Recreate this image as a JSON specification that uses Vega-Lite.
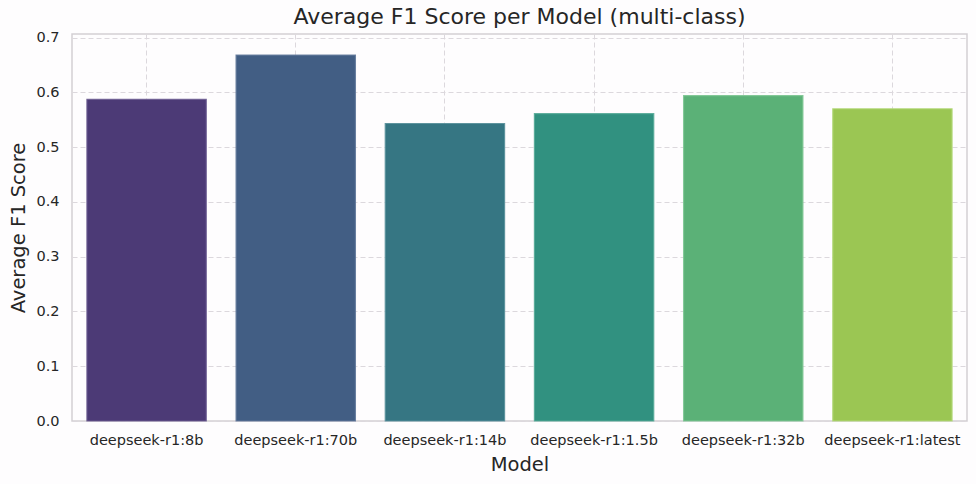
{
  "$schema": "https://vega.github.io/schema/vega-lite/v6.json",
  "width": 895,
  "height": 387,
  "autosize": "none",
  "padding": {"left": 72, "top": 34, "right": 9, "bottom": 63},
  "background": "#fefdfe",
  "title": {
    "text": "Average F1 Score per Model (multi-class)",
    "font": "DejaVu Sans",
    "fontSize": 22,
    "fontWeight": "normal",
    "color": "#262626",
    "anchor": "middle",
    "offset": 1
  },
  "config": {
    "view": {"stroke": "#d3d0d4", "strokeWidth": 1.5},
    "font": "DejaVu Sans"
  },
  "data": {
    "values": [
      {"Model": "deepseek-r1:8b", "F1": 0.587},
      {"Model": "deepseek-r1:70b", "F1": 0.668},
      {"Model": "deepseek-r1:14b", "F1": 0.543},
      {"Model": "deepseek-r1:1.5b", "F1": 0.561},
      {"Model": "deepseek-r1:32b", "F1": 0.594},
      {"Model": "deepseek-r1:latest", "F1": 0.570}
    ]
  },
  "mark": {"type": "bar", "strokeWidth": 1.2, "strokeOpacity": 0.9},
  "encoding": {
    "x": {
      "field": "Model",
      "type": "nominal",
      "sort": null,
      "scale": {"paddingInner": 0.2, "paddingOuter": 0.1},
      "axis": {
        "title": "Model",
        "titleFont": "DejaVu Sans",
        "titleFontSize": 19.5,
        "titleFontWeight": "normal",
        "titleColor": "#262626",
        "titlePadding": 9,
        "labelAngle": 0,
        "labelFontSize": 14.5,
        "labelColor": "#262626",
        "labelPadding": 12,
        "ticks": false,
        "domain": false,
        "grid": true,
        "bandPosition": 0.5,
        "gridColor": "#dcd8dd",
        "gridDash": [5, 3],
        "gridWidth": 1
      }
    },
    "y": {
      "field": "F1",
      "type": "quantitative",
      "scale": {"domain": [0, 0.7064], "nice": false},
      "axis": {
        "title": "Average F1 Score",
        "titleFont": "DejaVu Sans",
        "titleFontSize": 19.5,
        "titleFontWeight": "normal",
        "titleColor": "#262626",
        "titlePadding": 7,
        "values": [0, 0.1, 0.2, 0.3, 0.4, 0.5, 0.6, 0.7],
        "format": ".1f",
        "labelFontSize": 14.5,
        "labelColor": "#262626",
        "labelPadding": 13,
        "ticks": false,
        "domain": false,
        "grid": true,
        "gridColor": "#dcd8dd",
        "gridDash": [5, 3],
        "gridWidth": 1
      }
    },
    "color": {
      "field": "Model",
      "type": "nominal",
      "sort": null,
      "legend": null,
      "scale": {
        "range": ["#4c3a76", "#425e84", "#367683", "#319180", "#5bb177", "#9bc653"]
      }
    },
    "stroke": {
      "field": "Model",
      "type": "nominal",
      "sort": null,
      "legend": null,
      "scale": {
        "range": ["#6a5b90", "#62799b", "#58909a", "#55aa97", "#7ec793", "#b4d87b"]
      }
    }
  }
}
